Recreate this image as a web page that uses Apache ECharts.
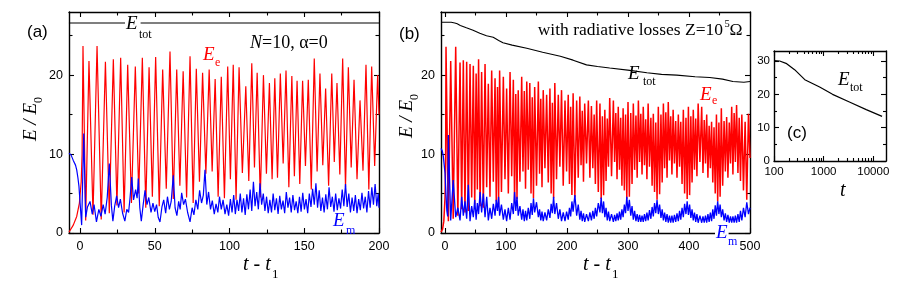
<!DOCTYPE html>
<html><head><meta charset="utf-8">
<script src="https://cdn.jsdelivr.net/npm/echarts@6/dist/echarts.min.js"></script>
<style>html,body{margin:0;padding:0;background:#fff}#c{width:899px;height:293px}</style>
</head><body><div id="c"></div>
<script>
// ---------------- DATA ----------------
// Panel (a): E_e extrema (peaks / troughs), lead-in rise and tail
const eeA_leadT = [-7.4, -4.5, -2.2, -0.4, 0.8, 1.4];
const eeA_leadV = [0.1, 1.0, 2.1, 3.8, 6.5, 10];
const eeA_peakT = [2.0,6,11.4,17,22.3,27.2,31.9,37,41.7,46.2,50.6,55.3,60.2,64.7,69.0,73.6,77.8,82,86.4,90.4,94.5,98.8,102.5,106.4,110.9,114.9,118.5,122.7,126.7,130.3,134,137.8,141.7,145.2,148.9,152.7,156.7,160.5,164.3,168.4,171.9,175.7,179.5,183.3,187.3,191.3,195.1,199.1];
const eeA_peakV = [23.7,21.8,23.7,21.7,22.0,22.2,21.3,21.1,22.2,21.0,22.3,20.7,23.0,20.7,20.5,22.4,20.8,20.3,20.7,19.5,19.8,21.1,21.3,21.0,18.6,21.5,20.3,20.0,19.0,19.6,20.2,20.6,19.9,19.3,19.3,19.4,22.1,20.2,18.3,20.2,19.0,22.1,21.0,19.4,16.8,21.3,21.1,20.0];
const eeA_troughT = [3.8,8.7,14.2,19.6,24.7,29.5,34.4,39.3,44,48.4,53,57.7,62.4,66.8,71.3,75.7,79.9,84.2,88.4,92.4,96.6,100.6,104.4,108.6,112.9,116.7,120.6,124.7,128.5,132.1,135.9,139.7,143.4,147,150.8,154.7,158.6,162.4,166.3,170.1,173.8,177.6,181.4,185.3,189.3,193.2,197.1];
const eeA_troughV = [1.6,2.3,1.7,2.5,3.5,2.6,3.8,5.0,3.2,4.6,3.4,5.6,4.3,6.0,4.5,3.8,6.5,7.5,7.8,4.6,4.4,6.8,4.2,7.6,6.6,8.3,4.5,7.5,6.8,7.0,8.8,5.8,7.2,6.2,8.5,5.5,7.8,8.6,6.0,9.0,7.4,5.8,8.3,6.8,7.9,5.5,8.5];
const eeA_tailT = [200];
const eeA_tailV = [15];

// Panel (a): E_m
const emA_t = [-7.4,-6,-4.5,-3,-2.2,-1.4,-0.7,0.4,1.1,2.5,3.8,5.0,6.7,8.2,9.4,11,12.6,14.0,15.5,16.8,18.2,19.6,21,22,23.2,24.5,25.8,27,28.5,30,31.3,32.5,33.5,34.6,35.8,37.2,38.2,39,40,41,42.2,43.5,44.8,46,47.5,48.8,50,51.2,52.3,53.5,54.8,56,57.3,58.5,59.8,61,62.4,63.6,64.8,66,67,68,69.3,70.5,72,73.6,75,76.2,77.5,78.8,80,81.3,82.5,83.6,84.8,86,87.3,88.5,89.8,91,92.2,93.3,94.5,95.7,97,98.2,99.4,100.6,
101.7,102.8,103.9,105,106.1,107.2,108.3,109.4,110.5,111.6,112.7,113.8,114.9,116,117.1,118.2,119.3,120.4,121.5,122.6,123.7,124.8,125.9,127,128.1,129.2,130.3,131.4,132.5,133.6,134.7,135.8,136.9,138,139.1,140.2,141.3,142.4,143.5,144.6,145.7,146.8,147.9,149,150.1,151.2,152.3,153.4,154.5,155.6,156.7,157.8,158.9,160,161.1,162.2,163.3,164.4,165.5,166.6,167.7,168.8,169.9,171,172.1,173.2,174.3,175.4,176.5,177.6,178.7,179.8,180.9,182,183.1,184.2,185.3,186.4,187.5,188.6,189.7,190.8,191.9,193,194.1,195.2,196.3,197.4,198.5,199.5,200];
const emA_v = [10.1,9.9,9.2,8.6,8.0,7.0,5.9,2.9,1.0,12.6,2.0,3.3,4.0,2.4,3.6,1.4,3.0,2.1,3.6,2.4,4.5,8.8,3.5,1.5,3.4,4.7,3.2,4.3,2.5,1.5,3.0,2.6,4.5,7.1,4.2,5.5,4.4,6.9,3.2,1.5,3.5,5.4,3.6,4.5,2.6,3.8,2.7,3.6,2.0,1.4,3.3,4.2,2.5,4.6,3.0,4.0,7.3,3.2,2.2,4.0,3.0,5.1,3.6,4.3,2.6,1.4,3.2,2.3,4.2,3.0,5.4,3.8,4.8,8.0,3.6,5.2,3.0,4.1,2.4,3.7,2.6,4.6,3.0,4.2,2.4,3.6,2.2,4.3,
2.6,4.8,2.4,4.2,2.8,5.0,2.6,4.4,2.3,4.9,3.0,5.5,2.8,6.5,3.4,5.2,3.0,6.3,3.6,5.0,2.8,4.6,2.5,4.2,2.6,5.0,2.9,4.4,2.4,4.7,3.0,4.1,2.5,5.2,3.2,4.5,2.6,4.8,2.9,4.0,2.5,4.6,2.7,5.1,3.0,4.3,2.5,5.0,3.3,5.6,3.6,6.3,3.2,5.4,2.8,4.5,2.6,4.9,3.0,5.8,3.3,4.6,2.7,5.0,2.9,4.4,3.1,5.5,3.4,6.2,3.3,5.0,2.6,4.5,2.8,4.8,2.5,4.3,2.9,5.1,3.1,4.6,2.6,5.3,3.2,5.8,3.6,6.2,3.4,5.0,3.2];

// Panel (a): E_tot
const etotA_t = [-7.4, 200];
const etotA_v = [26.6, 26.6];

// Panel (b): E_e peak times / values, trough times / values
const bPeakT = [1.6,9.3,17.5,24.6,30.0,35.5,41.0,46.4,51.0,55.0,60.0,65.6,71.0,76.5,82.0,86.0,89.5,95.6,101.0,106.6,112.0,116.0,120.0,125.7,130.0,134.0,139.0,143.0,147.0,153.0,157.0,161.0,166.6,172.0,176.0,180.0,185.7,191.0,196.7,202.0,206.0,210.0,215.8,221.0,225.0,229.0,235.0,240.0,244.5,248.6,254.0,258.0,262.0,266.0,270.0,276.0,280.0,284.0,288.0,292.0,296.0,300.0,304.5,308.7,313.0,317.0,321.0,325.0,329.0,333.0,337.5,341.5,345.5,349.7,354.0,358.0,362.0,366.0,370.0,374.0,378.2,382.5,386.5,390.7,395.0,399.0,403.0,407.0,411.0,415.0,420.8,425.0,429.0,433.0,437.0,441.0,445.0,449.0,453.0,457.5,461.7,466.0,470.0,474.0,478.0,482.3,486.6,492.0,497.5];
const eeB_peakV = [23.6,21.8,23.6,21.6,21.9,21.7,21.4,21.2,20.2,22.0,20.4,21.4,18.9,20.6,19.6,18.5,20.6,19.8,18.3,20.4,19.4,17.6,18.1,19.8,18.0,19.2,19.0,17.2,18.5,19.2,17.0,18.1,17.5,18.3,16.5,19.0,17.5,18.1,16.8,17.5,16.0,17.7,16.8,17.3,15.5,16.4,16.8,16.1,15.0,16.8,16.4,14.8,15.6,14.5,17.1,16.8,15.2,16.0,14.6,15.8,15.0,16.6,15.2,16.4,14.9,16.8,15.1,16.0,14.4,16.4,14.6,15.1,14.0,16.0,15.0,16.4,15.3,16.6,14.8,15.6,14.2,15.0,14.1,15.6,14.6,16.0,14.8,15.6,14.5,16.4,16.0,14.3,15.0,13.6,14.1,13.4,15.0,14.0,15.8,14.2,14.7,14.0,16.0,15.2,16.2,14.6,15.0,14.1,15.1];
const bTroughT = [5.5,13.4,21.0,27.3,32.7,38.2,43.7,48.7,53.0,57.5,62.8,68.3,73.7,79.2,84.0,87.8,92.5,98.3,103.8,109.3,114.0,118.0,122.8,127.8,132.0,136.5,141.0,145.0,150.0,155.0,159.0,163.8,169.3,174.0,178.0,182.8,188.3,193.8,199.3,204.0,208.0,212.9,218.4,223.0,227.0,232.0,237.5,242.3,246.5,251.3,256.0,260.0,264.0,268.0,273.0,278.0,282.0,286.0,290.0,294.0,298.0,302.2,306.6,310.8,315.0,319.0,323.0,327.0,331.0,335.2,339.5,343.5,347.6,351.8,356.0,360.0,364.0,368.0,372.0,376.1,380.3,384.5,388.6,392.8,397.0,401.0,405.0,409.0,413.0,417.9,422.9,427.0,431.0,435.0,439.0,443.0,447.0,451.0,455.2,459.6,463.8,468.0,472.0,476.0,480.2,484.4,489.3,494.7];
const eeB_troughV = [1.5,1.8,2.2,3.0,2.6,2.8,4.5,3.6,5.5,3.4,3.2,5.8,4.6,6.5,4.0,3.6,5.2,6.8,5.0,7.2,4.0,4.3,6.5,7.8,5.6,8.0,5.0,4.4,6.0,7.5,5.8,8.2,6.4,5.0,4.4,6.8,8.4,6.0,7.8,6.2,4.8,4.5,7.0,8.6,6.5,8.8,7.0,8.2,6.2,5.2,4.3,4.8,6.6,8.4,7.2,9.0,6.8,8.0,6.0,5.4,4.3,4.6,6.2,8.0,7.0,9.0,7.4,8.6,6.8,8.4,6.0,5.2,4.2,4.9,6.4,8.2,7.0,9.2,7.4,8.8,7.0,8.4,6.2,5.0,4.3,4.8,6.4,8.0,7.2,9.0,7.6,8.8,7.0,8.2,6.4,5.0,4.0,4.6,6.0,7.8,7.0,8.8,7.4,9.0,7.6,6.6,5.4,4.2];
const eeB_leadT = [-6.6, -4, -2, 0, 1.0];
const eeB_leadV = [0.1, 0.5, 1.5, 4.5, 9];
const eeB_tailT = [500];
const eeB_tailV = [9.5];

// Panel (b): E_m at the E_e trough times and at the E_e peak times
const emB_atTroughV = [12.4,6.7,3.2,4.6,4.0,6.1,3.4,4.2,3.8,5.2,5.0,4.6,3.2,3.7,4.2,4.6,3.6,3.0,3.2,3.8,5.2,4.6,3.4,3.0,2.8,3.2,3.8,4.4,3.9,3.0,2.7,2.6,3.0,3.7,4.6,3.8,3.0,2.6,2.7,3.2,4.0,4.8,3.6,2.8,2.5,2.4,2.6,2.8,3.2,3.8,4.5,4.0,3.2,2.7,2.4,2.3,2.5,2.7,3.0,3.6,4.6,4.2,3.4,2.8,2.4,2.3,2.2,2.4,2.6,2.9,3.3,3.8,4.2,3.6,3.0,2.6,2.4,2.2,2.2,2.3,2.5,2.8,3.2,3.7,4.0,3.6,3.0,2.6,2.4,2.2,2.1,2.2,2.4,2.6,3.0,3.5,4.0,3.6,3.0,2.5,2.3,2.1,2.1,2.2,2.4,2.8,3.2,3.9];
const emB_atPeakV = [4.8,1.6,2.0,1.6,2.2,1.8,1.5,2.0,1.7,2.4,2.6,2.0,1.6,1.8,2.2,2.8,2.2,1.7,1.5,1.7,2.4,2.8,2.2,1.7,1.5,1.6,1.8,2.3,2.6,2.0,1.6,1.5,1.6,1.9,2.5,2.4,1.8,1.5,1.5,1.7,2.1,2.7,2.2,1.7,1.5,1.4,1.5,1.6,1.8,2.1,2.6,2.5,2.0,1.6,1.5,1.4,1.5,1.6,1.7,2.0,2.5,2.8,2.2,1.7,1.5,1.4,1.4,1.4,1.5,1.6,1.8,2.1,2.5,2.4,1.9,1.6,1.4,1.3,1.3,1.3,1.4,1.5,1.7,2.0,2.4,2.3,1.9,1.6,1.4,1.3,1.3,1.3,1.3,1.4,1.5,1.8,2.2,2.4,2.0,1.6,1.4,1.3,1.3,1.3,1.3,1.4,1.6,2.0,2.4];
const emB_leadT = [-6.6, -4.5, -2.8, 0, 3.0, 4.4];
const emB_leadV = [10.7, 10.4, 9.7, 7.6, 2.8, 2.1];
const emB_tailT = [500];
const emB_tailV = [3.2];

// Panel (b): E_tot
const etotB_t = [-6.6,2,10,16,20,25,35,46,57,68,79,88,95,110,134,160,189,210,232,250,270,303,331,355,380,410,434,455,472,490,500];
const etotB_v = [26.7,26.7,26.7,26.6,26.5,26.3,26.0,25.7,25.3,25.0,24.8,24.4,24.1,23.8,23.4,22.9,22.4,21.9,21.3,21.1,20.9,20.6,20.3,20.1,20.0,19.8,19.7,19.5,19.2,19.1,19.2];

// Panel (c): E_tot vs t (log time)
const etotC_t = [100,130,180,260,417,830,1510,3300,7200,15000];
const etotC_v = [30.1,30.0,29.2,27.4,24.4,22.2,20.0,17.7,15.4,13.4];

// Tick values
const aXMajor = [0,50,100,150,200], aXMinor = [25,75,125,175];
const bXMajor = [0,100,200,300,400,500], bXMinor = [50,150,250,350,450];
const abYMajor = [0,10,20], abYMinor = [5,15,25];
const cXMajor = [100,1000,10000], cXMinor = [200,300,400,500,600,700,800,900,2000,3000,4000,5000,6000,7000,8000,9000];
const cYMajor = [0,10,20,30], cYMinor = [5,15,25];

// ---------------- BUILD ----------------
function pairs(ts, vs){ const n=Math.min(ts.length, vs.length); const o=[]; for(let i=0;i<n;i++) o.push([ts[i], vs[i]]); return o; }
function merge(){ const all=[].concat.apply([], Array.from(arguments)); return all.sort((p,q)=>p[0]-q[0]); }

const SANS = "'Liberation Sans', Arial, Helvetica, sans-serif";
const SERIF = "'Liberation Serif', 'Times New Roman', Times, serif";

function ax(grid, pos, min, max, ticks, len, showLine, labelSize, type, margin){
  const a = {
    type: type || 'value', gridIndex: grid, position: pos, min: min, max: max,
    axisLine: {show: showLine, onZero: false, lineStyle: {color:'#000', width:1.4}},
    axisTick: {show: true, inside: true, length: len, customValues: ticks, lineStyle:{color:'#000', width:1.1}},
    axisLabel: labelSize ? {show:true, customValues: ticks, fontSize: labelSize, color:'#000', fontFamily: SANS, margin: margin,
      formatter: function(v){ return String(Math.round(v)); }} : {show:false},
    splitLine: {show:false}, minorTick: {show:false}, minorSplitLine:{show:false},
    axisPointer: {show:false}, silent: true
  };
  if (type === 'log') a.logBase = 10;
  return a;
}

const xAxes = [
  ax(0,'bottom',-7.36,200,aXMajor,5,true,12.5,'value',7),
  ax(0,'bottom',-7.36,200,aXMinor,3.5,false),
  ax(0,'top',-7.36,200,aXMajor,5,true),
  ax(0,'top',-7.36,200,aXMinor,3.5,false),
  ax(1,'bottom',-6.6,500,bXMajor,5,true,12.5,'value',7),
  ax(1,'bottom',-6.6,500,bXMinor,3.5,false),
  ax(1,'top',-6.6,500,bXMajor,5,true),
  ax(1,'top',-6.6,500,bXMinor,3.5,false),
  ax(2,'bottom',100,18000,cXMajor,5,true,11.5,'log',5),
  ax(2,'bottom',100,18000,cXMinor,3,false,null,'log'),
  ax(2,'top',100,18000,cXMajor,5,true,null,'log'),
  ax(2,'top',100,18000,cXMinor,3,false,null,'log')
];
const yAxes = [
  ax(0,'left',0,28,abYMajor,5,true,12.5,'value',6),
  ax(0,'left',0,28,abYMinor,3.5,false),
  ax(0,'right',0,28,abYMajor,5,true),
  ax(0,'right',0,28,abYMinor,3.5,false),
  ax(1,'left',0,28,abYMajor,5,true,12.5,'value',6),
  ax(1,'left',0,28,abYMinor,3.5,false),
  ax(1,'right',0,28,abYMajor,5,true),
  ax(1,'right',0,28,abYMinor,3.5,false),
  ax(2,'left',0,33,cYMajor,5,true,11.5,'value',4),
  ax(2,'left',0,33,cYMinor,3,false),
  ax(2,'right',0,33,cYMajor,5,true),
  ax(2,'right',0,33,cYMinor,3,false)
];

function line(xi, yi, data, color, width, z){
  return {type:'line', xAxisIndex: xi, yAxisIndex: yi, data: data, showSymbol:false, symbol:'none',
    lineStyle:{color: color, width: width}, itemStyle:{color: color}, animation:false, silent:true, z: z, clip:true};
}

const eeA = merge(pairs(eeA_leadT, eeA_leadV), pairs(eeA_peakT, eeA_peakV), pairs(eeA_troughT, eeA_troughV), pairs(eeA_tailT, eeA_tailV));
const emA = pairs(emA_t, emA_v);
const eeB = merge(pairs(eeB_leadT, eeB_leadV), pairs(bPeakT, eeB_peakV), pairs(bTroughT, eeB_troughV), pairs(eeB_tailT, eeB_tailV));
const emB = merge(pairs(emB_leadT, emB_leadV), pairs(bPeakT, emB_atPeakV), pairs(bTroughT, emB_atTroughV), pairs(emB_tailT, emB_tailV));

const series = [
  line(0,0,eeA,'#ff0000',1.2,2),
  line(0,0,emA,'#0000ff',1.2,3),
  line(0,0,pairs(etotA_t, etotA_v),'#000',1.1,4),
  line(4,4,eeB,'#ff0000',1.5,2),
  line(4,4,emB,'#0000ff',1.3,3),
  line(4,4,pairs(etotB_t, etotB_v),'#000',1.1,4),
  line(8,8,pairs(etotC_t, etotC_v),'#000',1.2,4)
];

// ---------------- TEXT ----------------
const G = [];
function T(x, y, text, o){
  const st = Object.assign({text: text, fill:'#000', fontSize: 19, fontFamily: SERIF, fontStyle:'normal',
    align:'left', textAlign:'left', verticalAlign:'middle', textVerticalAlign:'middle'}, o || {});
  if (o && o.align) st.textAlign = o.align;
  G.push({type:'text', x: x, y: y, z: 100, silent:true, style: st});
}
const it = {fontStyle:'italic'};
// panel letters
T(27, 32, '(a)', {fontFamily: SANS, fontSize: 17});
T(399, 34, '(b)', {fontFamily: SANS, fontSize: 17});
T(787, 133.5, '(c)', {fontFamily: SANS, fontSize: 17});
// panel (a) annotations
T(125, 24, 'E', Object.assign({backgroundColor:'#fff', padding:[0,3,0,1]}, it));
T(139, 35, 'tot', {fontSize: 12});
T(250, 42.8, '{i|N}=10, α=0', {fontSize: 18, rich: {i: {fontStyle:'italic', fontSize:18, fontFamily: SERIF}}});
T(203, 55, 'E', Object.assign({fill:'#ff0000'}, it));
T(215, 63, 'e', {fill:'#ff0000', fontSize: 12});
T(333, 221, 'E', Object.assign({fill:'#0000ff'}, it));
T(346, 231, 'm', {fill:'#0000ff', fontSize: 12});
// panel (b) annotations
T(723, 30, 'with radiative losses Z=10', {fontSize: 17.5, align:'right'});
T(724.5, 24.5, '5', {fontSize: 10.5});
T(729.5, 30, 'Ω', {fontSize: 17.5});
T(628, 74, 'E', it);
T(643, 82, 'tot', {fontSize: 12});
T(700, 94.5, 'E', Object.assign({fill:'#ff0000'}, it));
T(712, 101, 'e', {fill:'#ff0000', fontSize: 12});
T(715, 233, 'E', Object.assign({fill:'#0000ff', backgroundColor:'#fff', padding:[0,1]}, it));
T(728, 242, 'm', {fill:'#0000ff', fontSize: 12});
// panel (c) annotations
T(838, 80, 'E', it);
T(850, 88, 'tot', {fontSize: 12});
// axis titles
T(243, 265, 't - t', Object.assign({fontSize: 20}, it));
T(272, 274.5, '1', {fontSize: 13});
T(583, 265, 't - t', Object.assign({fontSize: 20}, it));
T(612, 274.5, '1', {fontSize: 13});
T(840, 191, 't', Object.assign({fontSize: 20}, it));
function ylab(x, y){
  G.push({type:'group', x: x, y: y, rotation: Math.PI/2, z: 100, silent: true, children: [
    {type:'text', x:0, y:0, style:{text:'E / E', fill:'#000', fontSize:19, fontFamily:SERIF, fontStyle:'italic', align:'left', textAlign:'left', verticalAlign:'middle', textVerticalAlign:'middle'}},
    {type:'text', x:38, y:8, style:{text:'0', fill:'#000', fontSize:12, fontFamily:SERIF, align:'left', textAlign:'left', verticalAlign:'middle', textVerticalAlign:'middle'}}
  ]});
}
ylab(31, 141);
ylab(407, 138);

const chart = echarts.init(document.getElementById('c'), null, {renderer:'canvas'});
chart.setOption({
  animation: false,
  backgroundColor: '#fff',
  grid: [
    {left: 69, top: 12, width: 310, height: 221, containLabel:false, outerBoundsMode:'none'},
    {left: 441, top: 12, width: 309, height: 221, containLabel:false, outerBoundsMode:'none'},
    {left: 774, top: 51, width: 112, height: 110, containLabel:false, outerBoundsMode:'none'}
  ],
  xAxis: xAxes,
  yAxis: yAxes,
  series: series,
  graphic: G
});
</script></body></html>
